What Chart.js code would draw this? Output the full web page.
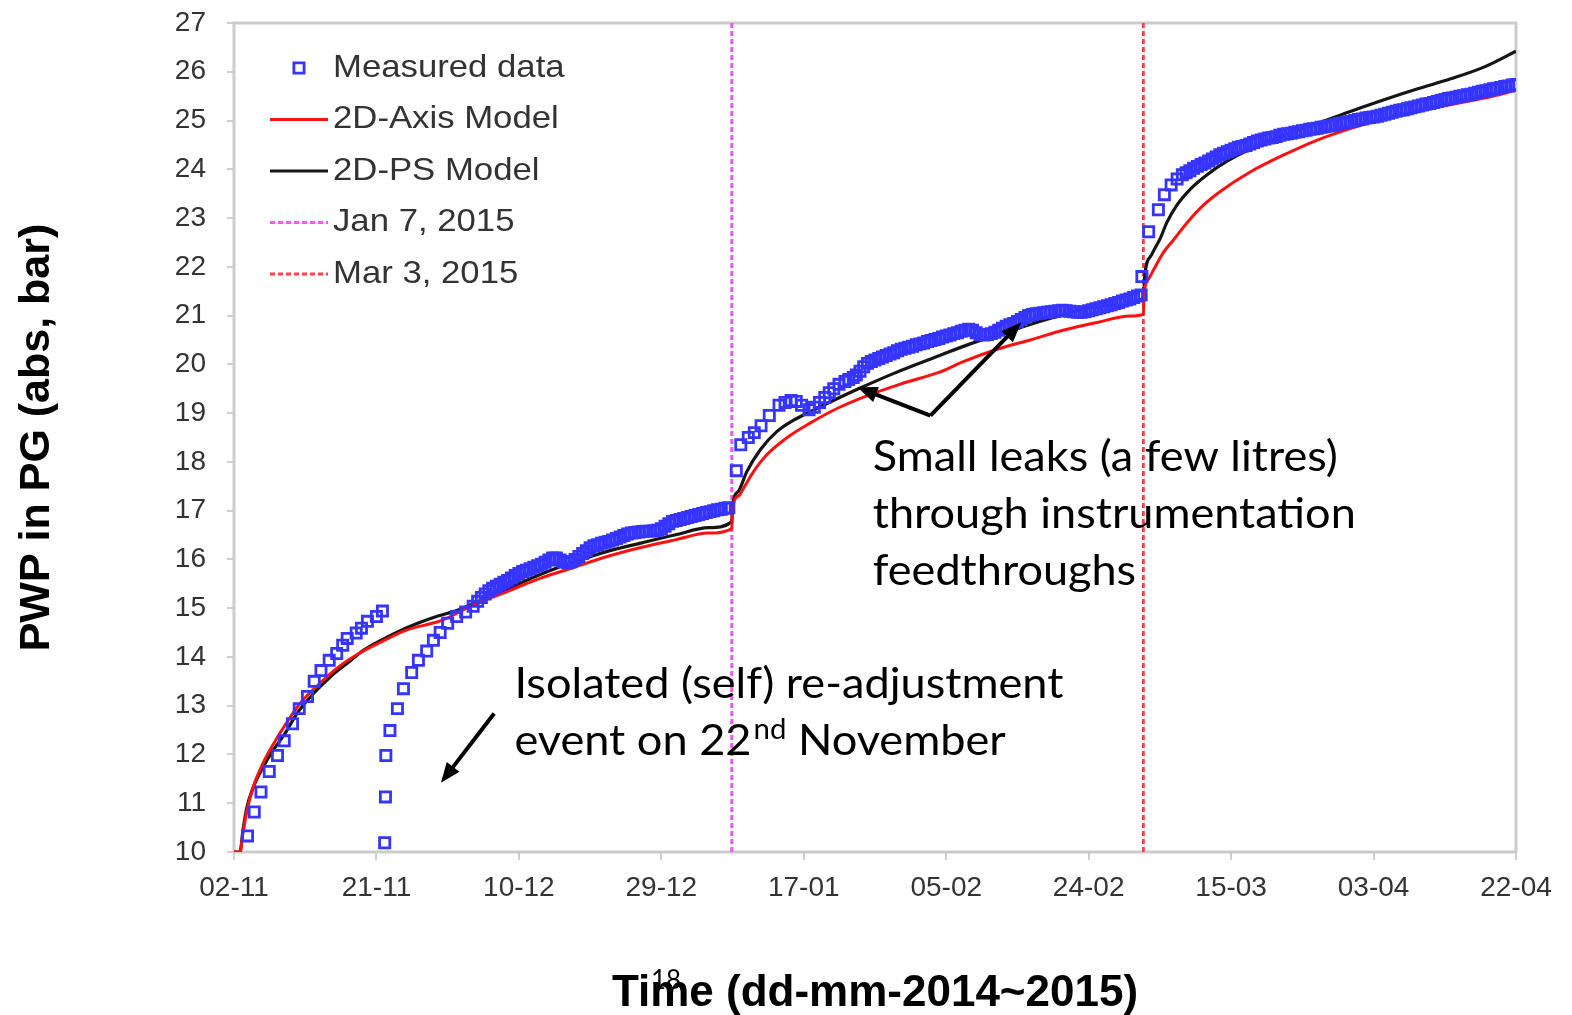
<!DOCTYPE html>
<html>
<head>
<meta charset="utf-8">
<title>PWP in PG</title>
<script src="https://cdn.jsdelivr.net/npm/chart.js@4.4.1/dist/chart.umd.min.js"></script>
<style>
  html, body { margin: 0; padding: 0; background: #fff; }
  canvas { display: block; }
</style>
</head>
<body>
<canvas id="pwpChart" width="1572" height="1015"></canvas>
<script>
// x values are days counted from 02-11-2014, y values are PWP in bar (abs)
const xTickLabels = ['02-11', '21-11', '10-12', '29-12', '17-01', '05-02', '24-02', '15-03', '03-04', '22-04'];
const xTickStep = 19;
const jan7Day = 66.4;
const mar3Day = 121.3;

// measured data, first rise until the 22 Nov event
const measuredRise = [
  [1.8, 10.33], [2.7, 10.82], [3.6, 11.23], [4.7, 11.65], [5.8, 11.98], [6.7, 12.28], [7.8, 12.63],
  [8.7, 12.94], [9.8, 13.19], [10.7, 13.5], [11.6, 13.72], [12.7, 13.93], [13.7, 14.07], [14.5, 14.24],
  [15.1, 14.38], [16.3, 14.49], [17.0, 14.59], [17.8, 14.73], [19.0, 14.83], [19.8, 14.94]
];

// measured data after the re-adjustment, until Jan 7
const measuredReset = [
  [20.1, 10.19], [20.2, 11.13], [20.25, 11.98], [20.8, 12.49], [21.8, 12.94], [22.6, 13.35], [23.7, 13.68],
  [24.6, 13.93], [25.7, 14.12], [26.6, 14.34], [27.5, 14.5], [28.5, 14.69], [29.7, 14.83], [30.9, 14.92],
  [31.9, 15.04], [32.5, 15.14], [33.0, 15.22], [33.5, 15.29], [34.0, 15.36], [34.5, 15.41], [35.0, 15.45],
  [35.5, 15.49], [36.0, 15.53], [36.5, 15.57], [37.0, 15.62], [37.5, 15.67], [38.0, 15.71], [38.5, 15.75],
  [39.0, 15.78], [39.5, 15.81], [40.0, 15.84], [40.5, 15.87], [41.0, 15.9], [41.5, 15.94], [42.0, 15.99],
  [42.5, 16.03], [43.0, 16.03], [43.5, 15.99], [44.0, 15.95], [44.5, 15.93], [45.0, 15.95], [45.5, 16.0],
  [46.0, 16.06], [46.5, 16.12], [47.0, 16.18], [47.5, 16.24], [48.0, 16.28], [48.5, 16.3], [49.0, 16.33],
  [49.5, 16.35], [50.0, 16.37], [50.5, 16.4], [51.0, 16.43], [51.5, 16.46], [52.0, 16.49], [52.5, 16.52],
  [53.0, 16.54], [53.5, 16.55], [54.0, 16.56], [54.5, 16.57], [55.0, 16.58], [55.5, 16.58], [56.0, 16.59],
  [56.5, 16.6], [57.0, 16.63], [57.5, 16.68], [58.0, 16.73], [58.5, 16.78], [59.0, 16.8], [59.5, 16.82],
  [60.0, 16.84], [60.5, 16.86], [61.0, 16.88], [61.5, 16.9], [62.0, 16.92], [62.5, 16.94], [63.0, 16.96],
  [63.5, 16.98], [64.0, 17.0], [64.5, 17.02], [65.0, 17.03], [65.5, 17.05], [66.0, 17.06]
];

// measured data between Jan 7 and Mar 3
const measuredJan = [
  [67.0, 17.82], [67.6, 18.35], [68.6, 18.5], [69.4, 18.6], [70.3, 18.74], [71.4, 18.95], [72.7, 19.16],
  [73.5, 19.22], [74.3, 19.26], [75.0, 19.24], [75.7, 19.16], [76.7, 19.07], [77.4, 19.12], [78.1, 19.22],
  [78.8, 19.32], [79.4, 19.42], [80.0, 19.5], [80.7, 19.59], [81.5, 19.65], [82.0, 19.69], [82.6, 19.73],
  [83.0, 19.78], [83.5, 19.86], [84.0, 19.95], [84.5, 20.02], [85.0, 20.06], [85.5, 20.09], [86.0, 20.12],
  [86.5, 20.15], [87.0, 20.18], [87.5, 20.21], [88.0, 20.24], [88.5, 20.28], [89.0, 20.31], [89.5, 20.33],
  [90.0, 20.35], [90.5, 20.37], [91.0, 20.4], [91.5, 20.42], [92.0, 20.44], [92.5, 20.47], [93.0, 20.49],
  [93.5, 20.51], [94.0, 20.53], [94.5, 20.56], [95.0, 20.58], [95.5, 20.6], [96.0, 20.63], [96.5, 20.65],
  [97.0, 20.68], [97.5, 20.7], [98.0, 20.72], [98.5, 20.7], [99.0, 20.65], [99.5, 20.61], [100.0, 20.6],
  [100.5, 20.61], [101.0, 20.63], [101.5, 20.66], [102.0, 20.7], [102.5, 20.74], [103.0, 20.78], [103.5, 20.81],
  [104.0, 20.84], [104.5, 20.88], [105.0, 20.92], [105.5, 20.96], [106.0, 21.0], [106.5, 21.02], [107.0, 21.04],
  [107.5, 21.05], [108.0, 21.06], [108.5, 21.07], [109.0, 21.08], [109.5, 21.09], [110.0, 21.1], [110.5, 21.11],
  [111.0, 21.1], [111.5, 21.09], [112.0, 21.08], [112.5, 21.07], [113.0, 21.07], [113.5, 21.08], [114.0, 21.1],
  [114.5, 21.12], [115.0, 21.14], [115.5, 21.16], [116.0, 21.18], [116.5, 21.2], [117.0, 21.22], [117.5, 21.25],
  [118.0, 21.27], [118.5, 21.3], [119.0, 21.32], [119.5, 21.34], [120.0, 21.37], [120.5, 21.4], [121.0, 21.42]
];

// measured data after Mar 3
const measuredMar = [
  [121.1, 21.8], [122.0, 22.72], [123.3, 23.17], [124.1, 23.48], [125.0, 23.68], [125.8, 23.8], [126.5, 23.89],
  [127.0, 23.93], [127.5, 23.97], [128.0, 24.02], [128.5, 24.06], [129.0, 24.1], [129.5, 24.13], [130.0, 24.17],
  [130.5, 24.21], [131.0, 24.25], [131.5, 24.3], [132.0, 24.33], [132.5, 24.36], [133.0, 24.39], [133.5, 24.42],
  [134.0, 24.45], [134.5, 24.47], [135.0, 24.49], [135.5, 24.52], [136.0, 24.55], [136.5, 24.58], [137.0, 24.6],
  [137.5, 24.62], [138.0, 24.64], [138.5, 24.65], [139.0, 24.67], [139.5, 24.7], [140.0, 24.72], [140.5, 24.73],
  [141.0, 24.74], [141.5, 24.76], [142.0, 24.77], [142.5, 24.79], [143.0, 24.8], [143.5, 24.82], [144.0, 24.83],
  [144.5, 24.84], [145.0, 24.86], [145.5, 24.87], [146.0, 24.89], [146.5, 24.9], [147.0, 24.92], [147.5, 24.94],
  [148.0, 24.95], [148.5, 24.97], [149.0, 24.98], [149.5, 25.0], [150.0, 25.02], [150.5, 25.03], [151.0, 25.05],
  [151.5, 25.06], [152.0, 25.07], [152.5, 25.09], [153.0, 25.11], [153.5, 25.13], [154.0, 25.15], [154.5, 25.17],
  [155.0, 25.19], [155.5, 25.21], [156.0, 25.22], [156.5, 25.24], [157.0, 25.26], [157.5, 25.28], [158.0, 25.3],
  [158.5, 25.32], [159.0, 25.34], [159.5, 25.35], [160.0, 25.37], [160.5, 25.39], [161.0, 25.41], [161.5, 25.43],
  [162.0, 25.45], [162.5, 25.46], [163.0, 25.48], [163.5, 25.5], [164.0, 25.51], [164.5, 25.53], [165.0, 25.54],
  [165.5, 25.56], [166.0, 25.58], [166.5, 25.6], [167.0, 25.61], [167.5, 25.63], [168.0, 25.65], [168.5, 25.66],
  [169.0, 25.68], [169.5, 25.7], [170.0, 25.71], [170.5, 25.73], [171.0, 25.74]
];

// 2D-Axis model (red)
const axisModel = [
  [0, 10], [0.8, 10.0], [1.2, 10.4], [1.8, 10.9], [2.6, 11.35], [3.8, 11.8], [5.2, 12.2], [6.8, 12.6],
  [9.0, 13.08], [11.6, 13.48], [14.0, 13.8], [17.0, 14.1], [19.5, 14.3], [23.0, 14.55], [27.7, 14.75],
  [32.1, 15.08], [36.6, 15.35], [41.0, 15.62], [45.4, 15.84], [50.0, 16.07], [54.4, 16.25], [58.8, 16.4],
  [63.3, 16.54], [66.4, 16.63], [66.5, 17.05], [67.3, 17.3], [68.0, 17.47], [69.3, 17.8], [71.1, 18.15],
  [73.8, 18.5], [76.9, 18.8], [80.5, 19.1], [84.5, 19.36], [89.0, 19.6], [94.3, 19.85], [97.2, 20.05],
  [101.6, 20.3], [106.2, 20.5], [110.6, 20.7], [115.1, 20.86], [119.6, 20.99], [121.3, 21.03],
  [121.4, 21.45], [122.0, 21.75], [122.7, 21.95], [124.0, 22.3], [125.3, 22.55], [127.1, 22.9],
  [129.0, 23.22], [131.6, 23.55], [135.6, 23.95], [140.1, 24.3], [144.5, 24.6], [149.0, 24.84],
  [153.5, 25.04], [157.9, 25.19], [162.4, 25.33], [166.8, 25.46], [171.0, 25.62]
];

// 2D-PS model (black)
const psModel = [
  [0, 10], [0.8, 10.0], [1.2, 10.45], [1.7, 10.9], [2.5, 11.3], [3.9, 11.75], [5.2, 12.08], [6.8, 12.43],
  [8.4, 12.84], [10.6, 13.25], [12.9, 13.6], [15.1, 13.87], [17.3, 14.14], [19.6, 14.34], [21.9, 14.52],
  [24.5, 14.69], [27.2, 14.84], [29.9, 14.96], [32.9, 15.16], [36.5, 15.4], [41.0, 15.7], [45.4, 15.95],
  [49.9, 16.17], [54.4, 16.34], [58.8, 16.5], [63.3, 16.65], [66.4, 16.77], [66.5, 17.1], [67.3, 17.4],
  [68.4, 17.8], [70.2, 18.25], [72.4, 18.62], [74.7, 18.86], [77.4, 19.07], [80.5, 19.3], [83.6, 19.52],
  [88.1, 19.82], [93.6, 20.15], [98.2, 20.42], [102.6, 20.64], [109.3, 20.96], [116.0, 21.2], [121.3, 21.36],
  [121.5, 21.85], [122.4, 22.25], [123.6, 22.6], [124.4, 22.9], [125.7, 23.25], [127.6, 23.6], [129.8, 23.89],
  [132.4, 24.16], [135.6, 24.42], [140.1, 24.71], [144.5, 24.94], [149.0, 25.19], [153.5, 25.43],
  [157.9, 25.65], [162.4, 25.86], [166.8, 26.1], [171.0, 26.42]
];

// text notes, anchored in data units (day, bar)
const leakNote = ['Small leaks (a few litres)', 'through instrumentation', 'feedthroughs'];
const leakAnchor = [85.2, 17.82];
const eventNote = ['Isolated (self) re-adjustment', 'event on 22', 'nd', ' November'];
const eventAnchor = [37.4, 13.15];
const arrows = [
  [[34.7, 12.84], [27.6, 11.42]],
  [[92.9, 18.95], [83.15, 19.53]],
  [[92.9, 18.95], [105.0, 20.86]]
];

const toPoints = (pairs) => pairs.map(([x, y]) => ({ x, y }));

function fillStretched(ctx, text, x, y, sx) {
  ctx.save();
  ctx.translate(x, y);
  ctx.scale(sx, 1);
  ctx.fillText(text, 0, 0);
  ctx.restore();
}

function drawArrow(ctx, x0, y0, x1, y1) {
  const a = Math.atan2(y1 - y0, x1 - x0);
  const len = 20, half = 8;
  ctx.beginPath();
  ctx.moveTo(x0, y0);
  ctx.lineTo(x1 - len * 0.7 * Math.cos(a), y1 - len * 0.7 * Math.sin(a));
  ctx.stroke();
  ctx.beginPath();
  ctx.moveTo(x1, y1);
  ctx.lineTo(x1 - len * Math.cos(a) + half * Math.sin(a), y1 - len * Math.sin(a) - half * Math.cos(a));
  ctx.lineTo(x1 - len * Math.cos(a) - half * Math.sin(a), y1 - len * Math.sin(a) + half * Math.cos(a));
  ctx.closePath();
  ctx.fill();
}

// grey frame round the plot area
const plotFrame = {
  id: 'plotFrame',
  beforeDatasetsDraw(chart) {
    const { ctx, chartArea: a } = chart;
    ctx.save();
    ctx.strokeStyle = '#cbcbcb';
    ctx.lineWidth = 3;
    ctx.strokeRect(a.left, a.top, a.right - a.left, a.bottom - a.top);
    ctx.restore();
  }
};

// legend drawn inside the plot, top left
const insideLegend = {
  id: 'insideLegend',
  afterDatasetsDraw(chart) {
    const { ctx, chartArea: a } = chart;
    const x0 = a.left + 36, x1 = a.left + 94, tx = a.left + 99;
    ctx.save();
    chart.data.datasets.forEach((ds, i) => {
      const y = a.top + 45 + i * 51.5;
      if (ds.showLine) {
        ctx.strokeStyle = ds.borderColor;
        ctx.lineWidth = ds.borderWidth;
        ctx.setLineDash(ds.borderDash || []);
        ctx.beginPath();
        ctx.moveTo(x0, y);
        ctx.lineTo(x1, y);
        ctx.stroke();
      } else {
        ctx.setLineDash([]);
        ctx.strokeStyle = ds.borderColor;
        ctx.fillStyle = ds.backgroundColor;
        ctx.lineWidth = ds.pointBorderWidth;
        Chart.helpers.drawPoint(ctx, {
          pointStyle: ds.pointStyle, radius: ds.pointRadius, borderWidth: ds.pointBorderWidth, rotation: 0
        }, (x0 + x1) / 2, y);
      }
      ctx.setLineDash([]);
      ctx.fillStyle = '#333';
      ctx.font = '32px "Liberation Sans", Arial, sans-serif';
      ctx.textBaseline = 'middle';
      ctx.textAlign = 'left';
      fillStretched(ctx, ds.label, tx, y, 1.085);
    });
    ctx.restore();
  }
};

// callout texts, arrows and slide number
const notes = {
  id: 'notes',
  afterDraw(chart) {
    const { ctx, scales: { x, y } } = chart;
    const px = (d) => x.getPixelForValue(d);
    const py = (v) => y.getPixelForValue(v);
    ctx.save();
    ctx.fillStyle = '#000';
    ctx.strokeStyle = '#000';
    ctx.lineWidth = 4;
    ctx.textAlign = 'left';
    ctx.textBaseline = 'alphabetic';

    const body = '43px Lato, "Noto Sans", sans-serif';
    const sup = '28px Lato, "Noto Sans", sans-serif';

    ctx.font = body;
    const sLeak = 465 / ctx.measureText(leakNote[0]).width;
    leakNote.forEach((line, i) => {
      fillStretched(ctx, line, px(leakAnchor[0]), py(leakAnchor[1]) + i * 57, sLeak);
    });

    const sEvent = 549 / ctx.measureText(eventNote[0]).width;
    const ex = px(eventAnchor[0]), ey = py(eventAnchor[1]);
    fillStretched(ctx, eventNote[0], ex, ey, sEvent);
    let cx = ex;
    const y2 = ey + 57;
    fillStretched(ctx, eventNote[1], cx, y2, sEvent);
    cx += ctx.measureText(eventNote[1]).width * sEvent + 2;
    ctx.font = sup;
    fillStretched(ctx, eventNote[2], cx, y2 - 16, sEvent);
    cx += ctx.measureText(eventNote[2]).width * sEvent;
    ctx.font = body;
    fillStretched(ctx, eventNote[3], cx, y2, sEvent);

    arrows.forEach(([from, to]) => {
      drawArrow(ctx, px(from[0]), py(from[1]), px(to[0]), py(to[1]));
    });

    ctx.font = '26px Lato, "Noto Sans", sans-serif';
    ctx.fillText('18', 651, 989);
    ctx.restore();
  }
};

new Chart(document.getElementById('pwpChart'), {
  type: 'scatter',
  data: {
    datasets: [
      {
        label: 'Measured data',
        data: toPoints([...measuredRise, ...measuredReset, ...measuredJan, ...measuredMar]),
        pointStyle: 'rect',
        pointRadius: 7.2,
        pointBorderWidth: 2.8,
        borderColor: '#3535ff',
        backgroundColor: 'rgba(255,255,255,0)',
        showLine: false
      },
      {
        label: '2D-Axis Model',
        data: toPoints(axisModel),
        showLine: true,
        borderColor: '#ff1010',
        borderWidth: 3,
        pointRadius: 0,
        cubicInterpolationMode: 'monotone'
      },
      {
        label: '2D-PS Model',
        data: toPoints(psModel),
        showLine: true,
        borderColor: '#151515',
        borderWidth: 3.2,
        pointRadius: 0,
        cubicInterpolationMode: 'monotone'
      },
      {
        label: 'Jan 7, 2015',
        data: [{ x: jan7Day, y: 10 }, { x: jan7Day, y: 27 }],
        showLine: true,
        borderColor: '#ff55ff',
        borderWidth: 3.2,
        borderDash: [5, 3],
        pointRadius: 0
      },
      {
        label: 'Mar 3, 2015',
        data: [{ x: mar3Day, y: 10 }, { x: mar3Day, y: 27 }],
        showLine: true,
        borderColor: '#ff4040',
        borderWidth: 2.8,
        borderDash: [5, 3],
        pointRadius: 0
      }
    ]
  },
  options: {
    responsive: false,
    animation: false,
    devicePixelRatio: 1,
    events: [],
    layout: {
      padding: { left: 0, top: 23, right: 56, bottom: 0 }
    },
    plugins: {
      legend: { display: false },
      tooltip: { enabled: false }
    },
    scales: {
      x: {
        type: 'linear',
        min: 0,
        max: 171,
        afterFit: (scale) => { scale.height = 163; },
        border: { display: false },
        grid: { drawOnChartArea: false, drawTicks: true, tickLength: 8, color: '#cfcfcf', lineWidth: 2 },
        ticks: {
          stepSize: xTickStep,
          autoSkip: false,
          maxRotation: 0,
          padding: 11,
          color: '#333',
          font: { family: '"Liberation Sans", Arial, sans-serif', size: 28 },
          callback: (value) => xTickLabels[Math.round(value / xTickStep)]
        },
        title: {
          display: true,
          text: 'Time (dd-mm-2014~2015)',
          color: '#000',
          padding: { top: 0, bottom: 0 },
          font: { family: '"Liberation Sans", Arial, sans-serif', size: 44, weight: 'bold', lineHeight: 0.95 }
        }
      },
      y: {
        min: 10,
        max: 27,
        afterFit: (scale) => {
          scale.width = 234;
          scale.paddingTop = 0;
          scale.paddingBottom = 0;
        },
        border: { display: false },
        grid: { drawOnChartArea: false, drawTicks: true, tickLength: 7, color: '#cfcfcf', lineWidth: 2 },
        ticks: {
          stepSize: 1,
          autoSkip: false,
          padding: 21,
          color: '#333',
          font: { family: '"Liberation Sans", Arial, sans-serif', size: 28 }
        },
        title: {
          display: true,
          text: 'PWP in PG (abs, bar)',
          color: '#000',
          padding: { top: 11, bottom: 0 },
          font: { family: '"Liberation Sans", Arial, sans-serif', size: 43, weight: 'bold' }
        }
      }
    }
  },
  plugins: [plotFrame, insideLegend, notes]
});
</script>
</body>
</html>
